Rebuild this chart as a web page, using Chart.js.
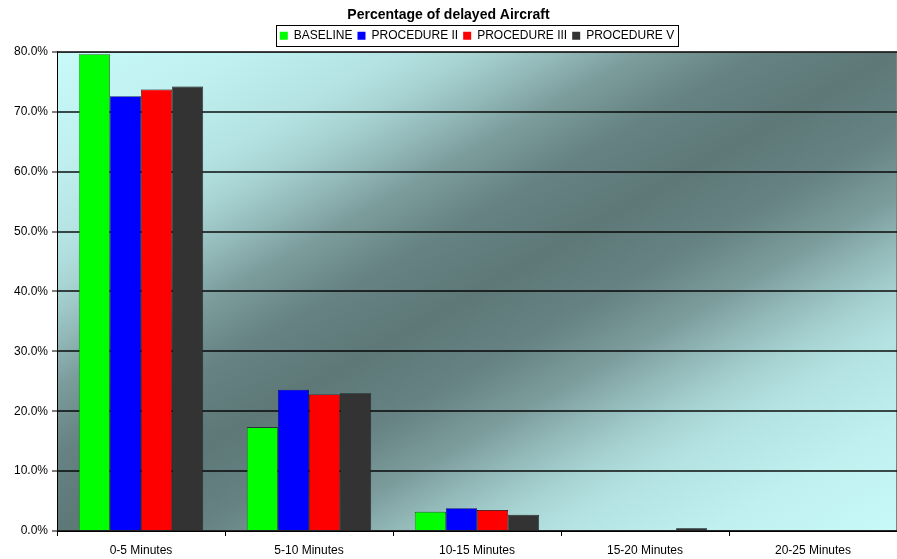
<!DOCTYPE html>
<html><head><meta charset="utf-8">
<script src="https://cdn.jsdelivr.net/npm/chart.js@4/dist/chart.umd.min.js"></script>
<style>html,body{margin:0;padding:0;background:#fff;}canvas{display:block;}</style>
</head><body>
<canvas id="c" width="897" height="559"></canvas>
<script>
const categories = ['0-5 Minutes','5-10 Minutes','10-15 Minutes','15-20 Minutes','20-25 Minutes'];
const seriesNames = ['BASELINE','PROCEDURE II','PROCEDURE III','PROCEDURE V'];
const baseline = [79.6, 17.3, 3.2, 0.15, 0.0];
const procedure2 = [72.6, 23.6, 3.8, 0.15, 0.15];
const procedure3 = [73.7, 22.8, 3.5, 0.15, 0.0];
const procedure5 = [74.2, 23.0, 2.7, 0.45, 0.0];
const seriesColors = ['#00ff00','#0000ff','#ff0000','#333333'];
const yTicks = [0,10,20,30,40,50,60,70,80];

const FONT = '"Liberation Sans", Arial, sans-serif';

const LIGHT = [200, 250, 250], DARK = [94, 120, 120];
const gradStops = [[0,0],[0.11,0.08],[0.2,0.18],[0.25,0.3],[0.3,0.5],[0.35,0.72],[0.42,0.92],[0.5,1],
                   [0.58,0.92],[0.65,0.72],[0.7,0.5],[0.75,0.3],[0.8,0.18],[0.89,0.08],[1,0]];
function mix(d) {
  const c = LIGHT.map((l, i) => Math.round(l + d * (DARK[i] - l)));
  return `rgb(${c[0]},${c[1]},${c[2]})`;
}

const bgPlugin = {
  id: 'bg',
  beforeDraw(chart) {
    const {ctx, chartArea: a} = chart;
    const W = a.right - a.left, H = a.bottom - a.top;
    const cx = (a.left + a.right) / 2, cy = (a.top + a.bottom) / 2;
    const t = -W * H / (H * H + W * W);
    const g = ctx.createLinearGradient(cx + t * H, cy + t * W, cx - t * H, cy - t * W);
    gradStops.forEach(([p, d]) => g.addColorStop(p, mix(d)));
    ctx.save();
    ctx.fillStyle = g;
    ctx.fillRect(a.left, a.top, W, H);
    ctx.strokeStyle = '#808080';
    ctx.lineWidth = 1;
    ctx.strokeRect(a.left + 0.5, a.top + 0.5, W - 1, H - 1);
    ctx.restore();
  },
  afterDraw(chart) {
    const lg = chart.legend;
    if (!lg || !lg.legendHitBoxes || !lg.legendHitBoxes.length) return;
    const hb = lg.legendHitBoxes;
    let l = Infinity, r = -Infinity, t = Infinity, b = -Infinity;
    hb.forEach(h => { l = Math.min(l, h.left); r = Math.max(r, h.left + h.width); t = Math.min(t, h.top); b = Math.max(b, h.top + h.height); });
    const ctx = chart.ctx;
    ctx.save();
    ctx.strokeStyle = '#000';
    ctx.lineWidth = 1;
    ctx.strokeRect(Math.round(l - 4) + 0.5, Math.round(t - 5) + 0.5, Math.round(r - l + 8), Math.round(b - t + 9));
    ctx.restore();
  }
};

const data = {
  labels: categories,
  datasets: [baseline, procedure2, procedure3, procedure5].map((d, i) => ({
    label: seriesNames[i],
    data: d,
    backgroundColor: seriesColors[i],
    borderColor: '#000',
    borderWidth: 0.6,
    categoryPercentage: 0.74,
    barPercentage: 1.0
  }))
};

new Chart(document.getElementById('c'), {
  type: 'bar',
  data,
  plugins: [bgPlugin],
  options: {
    responsive: false,
    animation: false,
    layout: { padding: { left: 0, right: 0, top: 0, bottom: 0 } },
    plugins: {
      title: {
        display: true,
        text: 'Percentage of delayed Aircraft',
        color: '#000',
        font: { family: FONT, size: 14, weight: 'bold' },
        padding: { top: 7, bottom: 1 }
      },
      legend: {
        display: true,
        fullSize: false,
        labels: {
          color: '#000',
          font: { family: FONT, size: 12 },
          boxWidth: 8,
          boxHeight: 8,
          padding: 5,
          generateLabels(chart) {
            return chart.data.datasets.map((ds, i) => ({
              text: ds.label, fillStyle: ds.backgroundColor, strokeStyle: ds.backgroundColor,
              lineWidth: 0, datasetIndex: i, hidden: false
            }));
          }
        }
      },
      tooltip: { enabled: false }
    },
    scales: {
      x: {
        offset: true,
        afterFit(s) { s.height = 28; },
        grid: { display: true, drawOnChartArea: false, drawTicks: true, tickLength: 5, color: '#000', offset: true },
        border: { display: true, color: '#000' },
        ticks: { color: '#000', font: { family: FONT, size: 12 }, padding: 7, maxRotation: 0 }
      },
      y: {
        min: 0, max: 80,
        afterFit(s) { s.width = 57; },
        afterBuildTicks(s) { s.ticks = yTicks.map(v => ({ value: v })); },
        grid: { color: 'rgba(0,0,0,0.7)', lineWidth: 2, drawTicks: true, tickLength: 5, tickColor: '#000', tickWidth: 1 },
        border: { display: true, color: '#000' },
        ticks: { color: '#000', font: { family: FONT, size: 12 }, padding: 4, callback: v => v.toFixed(1) + '%' }
      }
    }
  }
});
</script>
</body></html>
